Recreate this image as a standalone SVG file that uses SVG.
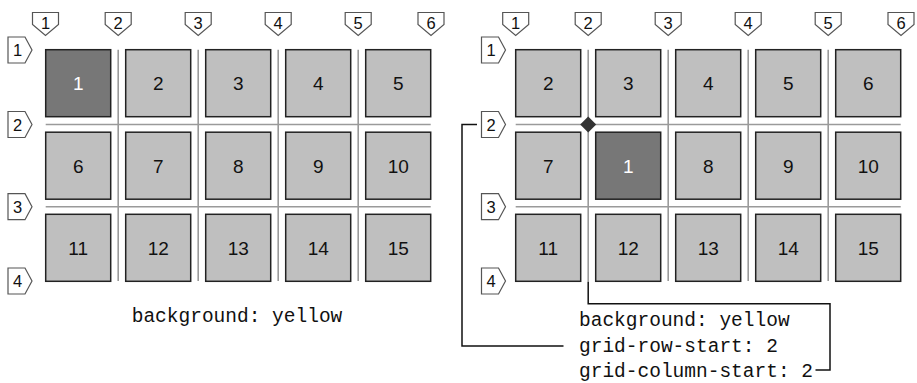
<svg xmlns="http://www.w3.org/2000/svg" width="917" height="383" viewBox="0 0 917 383">
<style>
.box{fill:#bfbfbf;stroke:#222;stroke-width:1.5}
.dark{fill:#777}
.num{font-family:"Liberation Sans",Arial,sans-serif;font-size:19px;text-anchor:middle;fill:#111}
.wnum{fill:#fff}
.gl{stroke:#9a9a9a;stroke-width:1.6;fill:none}
.tag{fill:#fff;stroke:#555;stroke-width:1.2}
.tl{font-family:"Liberation Sans",Arial,sans-serif;font-size:16.5px;text-anchor:middle;fill:#111}
.code{font-family:"Liberation Mono","DejaVu Sans Mono",monospace;font-size:19.5px;fill:#111}
.con{stroke:#111;stroke-width:1.5;fill:none}
</style>
<defs>
<path id="ctag" d="M-13,-11.5 H13 V0.5 L0,11.5 L-13,0.5 Z"/>
<path id="rtag" d="M-12,-13 H5 L12,0 L5,13 H-12 Z"/>
</defs>
<rect width="917" height="383" fill="#fff"/>

<g id="left-gridlines" class="gl">
<path d="M118.2,49.7V281M198.2,49.7V281M278.2,49.7V281M358.2,49.7V281M45.7,124.5H430.7M45.7,206.7H430.7"/>
</g>
<g id="right-gridlines" class="gl">
<path d="M588.2,49.7V281M668.2,49.7V281M748.2,49.7V281M828.2,49.7V281M515.7,124.5H900.7M515.7,206.7H900.7"/>
</g>

<g id="left-col-tags">
<use href="#ctag" class="tag" x="45.5" y="24"/><text class="tl" x="45.5" y="28.8">1</text>
<use href="#ctag" class="tag" x="118.2" y="24"/><text class="tl" x="118.2" y="28.8">2</text>
<use href="#ctag" class="tag" x="198.2" y="24"/><text class="tl" x="198.2" y="28.8">3</text>
<use href="#ctag" class="tag" x="278.2" y="24"/><text class="tl" x="278.2" y="28.8">4</text>
<use href="#ctag" class="tag" x="358.2" y="24"/><text class="tl" x="358.2" y="28.8">5</text>
<use href="#ctag" class="tag" x="431" y="24"/><text class="tl" x="431" y="28.8">6</text>
</g>
<g id="left-row-tags">
<use href="#rtag" class="tag" x="20" y="50"/><text class="tl" x="17.5" y="56">1</text>
<use href="#rtag" class="tag" x="20" y="124.5"/><text class="tl" x="17.5" y="130.5">2</text>
<use href="#rtag" class="tag" x="20" y="206.7"/><text class="tl" x="17.5" y="212.7">3</text>
<use href="#rtag" class="tag" x="20" y="281"/><text class="tl" x="17.5" y="287">4</text>
</g>

<g id="right-col-tags">
<use href="#ctag" class="tag" x="515.7" y="24"/><text class="tl" x="515.7" y="28.8">1</text>
<use href="#ctag" class="tag" x="588.2" y="24"/><text class="tl" x="588.2" y="28.8">2</text>
<use href="#ctag" class="tag" x="668.2" y="24"/><text class="tl" x="668.2" y="28.8">3</text>
<use href="#ctag" class="tag" x="748.2" y="24"/><text class="tl" x="748.2" y="28.8">4</text>
<use href="#ctag" class="tag" x="828.2" y="24"/><text class="tl" x="828.2" y="28.8">5</text>
<use href="#ctag" class="tag" x="901" y="24"/><text class="tl" x="901" y="28.8">6</text>
</g>
<g id="right-row-tags">
<use href="#rtag" class="tag" x="493.5" y="50"/><text class="tl" x="491" y="56">1</text>
<use href="#rtag" class="tag" x="493.5" y="124.5"/><text class="tl" x="491" y="130.5">2</text>
<use href="#rtag" class="tag" x="493.5" y="206.7"/><text class="tl" x="491" y="212.7">3</text>
<use href="#rtag" class="tag" x="493.5" y="281"/><text class="tl" x="491" y="287">4</text>
</g>

<g id="L1"><rect class="box dark" x="45.7" y="49.7" width="65" height="67"/><text class="num wnum" x="78.2" y="90">1</text></g>
<g id="L2"><rect class="box" x="125.7" y="49.7" width="65" height="67"/><text class="num" x="158.2" y="90">2</text></g>
<g id="L3"><rect class="box" x="205.7" y="49.7" width="65" height="67"/><text class="num" x="238.2" y="90">3</text></g>
<g id="L4"><rect class="box" x="285.7" y="49.7" width="65" height="67"/><text class="num" x="318.2" y="90">4</text></g>
<g id="L5"><rect class="box" x="365.7" y="49.7" width="65" height="67"/><text class="num" x="398.2" y="90">5</text></g>
<g id="L6"><rect class="box" x="45.7" y="132.2" width="65" height="67"/><text class="num" x="78.2" y="172.5">6</text></g>
<g id="L7"><rect class="box" x="125.7" y="132.2" width="65" height="67"/><text class="num" x="158.2" y="172.5">7</text></g>
<g id="L8"><rect class="box" x="205.7" y="132.2" width="65" height="67"/><text class="num" x="238.2" y="172.5">8</text></g>
<g id="L9"><rect class="box" x="285.7" y="132.2" width="65" height="67"/><text class="num" x="318.2" y="172.5">9</text></g>
<g id="L10"><rect class="box" x="365.7" y="132.2" width="65" height="67"/><text class="num" x="398.2" y="172.5">10</text></g>
<g id="L11"><rect class="box" x="45.7" y="214.3" width="65" height="67"/><text class="num" x="78.2" y="254.6">11</text></g>
<g id="L12"><rect class="box" x="125.7" y="214.3" width="65" height="67"/><text class="num" x="158.2" y="254.6">12</text></g>
<g id="L13"><rect class="box" x="205.7" y="214.3" width="65" height="67"/><text class="num" x="238.2" y="254.6">13</text></g>
<g id="L14"><rect class="box" x="285.7" y="214.3" width="65" height="67"/><text class="num" x="318.2" y="254.6">14</text></g>
<g id="L15"><rect class="box" x="365.7" y="214.3" width="65" height="67"/><text class="num" x="398.2" y="254.6">15</text></g>

<g id="R2"><rect class="box" x="515.7" y="49.7" width="65" height="67"/><text class="num" x="548.2" y="90">2</text></g>
<g id="R3"><rect class="box" x="595.7" y="49.7" width="65" height="67"/><text class="num" x="628.2" y="90">3</text></g>
<g id="R4"><rect class="box" x="675.7" y="49.7" width="65" height="67"/><text class="num" x="708.2" y="90">4</text></g>
<g id="R5"><rect class="box" x="755.7" y="49.7" width="65" height="67"/><text class="num" x="788.2" y="90">5</text></g>
<g id="R6"><rect class="box" x="835.7" y="49.7" width="65" height="67"/><text class="num" x="868.2" y="90">6</text></g>
<g id="R7"><rect class="box" x="515.7" y="132.2" width="65" height="67"/><text class="num" x="548.2" y="172.5">7</text></g>
<g id="R1"><rect class="box dark" x="595.7" y="132.2" width="65" height="67"/><text class="num wnum" x="628.2" y="172.5">1</text></g>
<g id="R8"><rect class="box" x="675.7" y="132.2" width="65" height="67"/><text class="num" x="708.2" y="172.5">8</text></g>
<g id="R9"><rect class="box" x="755.7" y="132.2" width="65" height="67"/><text class="num" x="788.2" y="172.5">9</text></g>
<g id="R10"><rect class="box" x="835.7" y="132.2" width="65" height="67"/><text class="num" x="868.2" y="172.5">10</text></g>
<g id="R11"><rect class="box" x="515.7" y="214.3" width="65" height="67"/><text class="num" x="548.2" y="254.6">11</text></g>
<g id="R12"><rect class="box" x="595.7" y="214.3" width="65" height="67"/><text class="num" x="628.2" y="254.6">12</text></g>
<g id="R13"><rect class="box" x="675.7" y="214.3" width="65" height="67"/><text class="num" x="708.2" y="254.6">13</text></g>
<g id="R14"><rect class="box" x="755.7" y="214.3" width="65" height="67"/><text class="num" x="788.2" y="254.6">14</text></g>
<g id="R15"><rect class="box" x="835.7" y="214.3" width="65" height="67"/><text class="num" x="868.2" y="254.6">15</text></g>

<g id="diamond"><path d="M588.2,116.5 L596.2,124.5 L588.2,132.5 L580.2,124.5 Z" fill="#333"/></g>

<g id="connectors" class="con">
<path d="M477,124.5 H462 V346 H563.5"/>
<path d="M588.2,281.5 V303.8 H830 V370 H815.5"/>
</g>

<g id="left-code"><text class="code" x="131.7" y="322">background: yellow</text></g>
<g id="right-code">
<text class="code" x="579" y="326">background: yellow</text>
<text class="code" x="579" y="351.5">grid-row-start: 2</text>
<text class="code" x="579" y="377">grid-column-start: 2</text>
</g>
</svg>
